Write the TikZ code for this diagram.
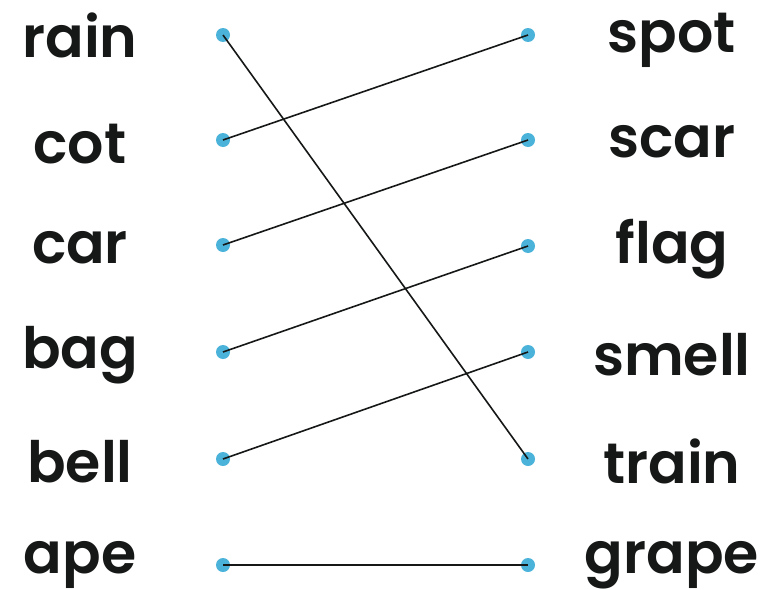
\documentclass[tikz,border=0pt]{standalone}
\usepackage{fontspec}
\setmainfont{Poppins}[UprightFont=* SemiBold]
\usepackage{tikz}
\definecolor{Ink}{HTML}{161817}
\definecolor{Sky}{HTML}{4BB3DA}
\begin{document}
\begin{tikzpicture}[x=1pt,y=-1pt,
    every node/.style={font=\fontsize{57}{57}\selectfont,text=Ink,inner sep=0pt,anchor=base},
    dot/.style={circle,fill=Sky,minimum size=14pt,inner sep=0pt,anchor=center}]
  \useasboundingbox (0,0) rectangle (779,589);
  % left words
  \node (rain) at (80,57) {rain};
  \node (cot) at (80,163) {cot};
  \node (car) at (80,263) {car};
  \node (bag) at (80,368) {bag};
  \node (bell) at (80,482) {bell};
  \node (ape) at (80,573) {ape};
  % right words
  \node (spot) at (672,52) {spot};
  \node (scar) at (672,157) {scar};
  \node (flag) at (672,263) {flag};
  \node (smell) at (672,375) {smell};
  \node (train) at (672,483) {train};
  \node (grape) at (672,573) {grape};
  % dots
  \node[dot] (drain) at (223,35) {};
  \node[dot] (dcot) at (223,140) {};
  \node[dot] (dcar) at (223,245) {};
  \node[dot] (dbag) at (223,352) {};
  \node[dot] (dbell) at (223,459) {};
  \node[dot] (dape) at (223,565) {};
  \node[dot] (dspot) at (528,35) {};
  \node[dot] (dscar) at (528,140) {};
  \node[dot] (dflag) at (528,246) {};
  \node[dot] (dsmell) at (528,352) {};
  \node[dot] (dtrain) at (528,459) {};
  \node[dot] (dgrape) at (528,565) {};
  \draw[line width=1.6pt,Ink] (drain.center)--(dtrain.center);
  \draw[line width=1.6pt,Ink] (dcot.center)--(dspot.center);
  \draw[line width=1.6pt,Ink] (dcar.center)--(dscar.center);
  \draw[line width=1.6pt,Ink] (dbag.center)--(dflag.center);
  \draw[line width=1.6pt,Ink] (dbell.center)--(dsmell.center);
  \draw[line width=1.6pt,Ink] (dape.center)--(dgrape.center);
\end{tikzpicture}
\end{document}
